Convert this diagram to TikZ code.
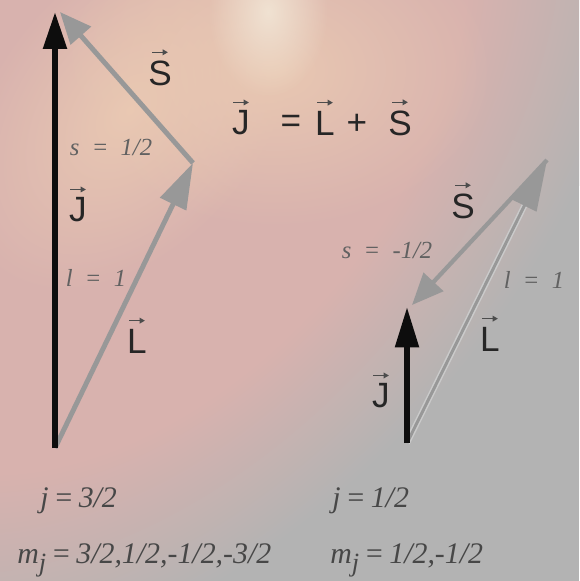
\documentclass[tikz,border=0pt]{standalone}
\usepackage{fontspec}
\setsansfont{Liberation Sans}
\newfontfamily\labelfont{Liberation Serif}
\usetikzlibrary{arrows.meta,fadings}
\definecolor{bggray}{RGB}{179,179,179}
\definecolor{bgpink}{RGB}{216,178,174}
\definecolor{bgpeach}{RGB}{233,200,178}
\definecolor{bgglow}{RGB}{240,226,210}
\definecolor{arrowgray}{RGB}{152,152,152}
\tikzfading[name=glowfade,inner color=transparent!0,outer color=transparent!100]
\pgfdeclareradialshading{bgshade}{\pgfpointorigin}{color(0bp)=(bgpeach); color(8bp)=(bgpink); color(16bp)=(bgpink); color(25bp)=(bggray); color(50bp)=(bggray)}
\newcommand{\subj}{\raisebox{-0.6ex}{\fontsize{15}{16}\selectfont j}}

\begin{document}
\begin{tikzpicture}[x=0.02cm,y=-0.02cm,
  vecnode/.style={font=\sffamily\fontsize{20}{22}\selectfont,text=black!85,inner sep=0pt},
  vecmark/.style={line width=0.9pt,draw=black!70,-{Triangle[length=3pt,width=3.2pt]}},
  qsmall/.style={font=\labelfont\itshape\fontsize{14}{16}\selectfont,text=black!62,inner sep=0pt},
  qbig/.style={font=\labelfont\itshape\fontsize{17}{20}\selectfont,text=black!72,inner sep=0pt,anchor=base west},
  jvec/.style={line width=3.3pt,draw=black!95},
  graylvec/.style={line width=2.8pt,draw=arrowgray},
  grayedge/.style={line width=3.4pt,draw=white!50!arrowgray}]
  \useasboundingbox (0,0) rectangle (579,581);
  % background glow
  \fill[bggray] (0,0) rectangle (579,581);
  \begin{scope}
    \clip (0,0) rectangle (579,581);
    \begin{scope}[transform canvas={shift={(130,110)},rotate=50}]
      \shade[shading=bgshade] (0,0) ellipse [x radius=13cm,y radius=8.4cm];
    \end{scope}
    \fill[bgpeach,path fading=glowfade] (275,70) ellipse [x radius=4.4cm,y radius=3.2cm];
    \fill[bgglow,path fading=glowfade] (268,12) ellipse [x radius=1.2cm,y radius=1.7cm];
  \end{scope}

  % left triangle: j = 3/2
  \coordinate (o1) at (55,448);
  \coordinate (j1) at (55,12);
  \coordinate (p1) at (193,163);
  \coordinate (s1) at (60,12);
  \draw[graylvec,-{Triangle[length=26pt,width=16pt]}] (o1) -- (p1);
  \draw[graylvec,-{Triangle[length=18pt,width=15pt]}] (p1) -- (s1);
  \draw[jvec,-{Triangle[length=21pt,width=13pt]}] (o1) -- (j1);

  % right triangle: j = 1/2
  \coordinate (o2) at (407,443);
  \coordinate (j2) at (407,307);
  \coordinate (p2) at (547,160);
  \coordinate (s2) at (412,305);
  \draw[grayedge,shorten >=24pt] (o2) -- (p2);
  \draw[line width=1.7pt,draw=arrowgray,-{Triangle[length=29pt,width=15pt]}] (o2) -- (p2);
  \draw[graylvec,line width=2.4pt,-{Triangle[length=18pt,width=15pt]}] (p2) -- (s2);
  \draw[jvec,-{Triangle[length=23pt,width=13pt]}] (o2) -- (j2);

  % J = L + S
  \node[vecnode] (eqj) at (241,123) {J};
  \node[vecnode] (eqeq) at (291,124) {=};
  \node[vecnode] (eql) at (325,123) {L};
  \node[vecnode] (eqplus) at (357,124) {+};
  \node[vecnode] (eqs) at (400,123) {S};
  % vector labels
  \node[vecnode] (sl) at (160,73) {S};
  \node[vecnode] (jl) at (78,210) {J};
  \node[vecnode] (ll) at (137,341) {L};
  \node[vecnode] (sr) at (463,206) {S};
  \node[vecnode] (lr) at (490,339) {L};
  \node[vecnode] (jr) at (381,396) {J};
  \foreach \n in {eqj,eql,eqs,sl,jl,ll,sr,lr,jr}
    \draw[vecmark] ([yshift=4.5pt]\n.north) ++(-4.5pt,0) -- ++(9pt,0);

  % quantum numbers
  \node[qsmall] (sq1) at (111,147) {s\enspace=\enspace1/2};
  \node[qsmall] (lq1) at (96,278) {l\enspace=\enspace1};
  \node[qsmall] (sq2) at (387,250) {s\enspace=\enspace-1/2};
  \node[qsmall] (lq2) at (534,280) {l\enspace=\enspace1};
  \node[qbig] (jt1) at (40,507) {j\,=\,3/2};
  \node[qbig] (mt1) at (17,563) {m\subj\,=\,3/2,1/2,-1/2,-3/2};
  \node[qbig] (jt2) at (332,507) {j\,=\,1/2};
  \node[qbig] (mt2) at (330,563) {m\subj\,=\,1/2,-1/2};
\end{tikzpicture}
\end{document}
